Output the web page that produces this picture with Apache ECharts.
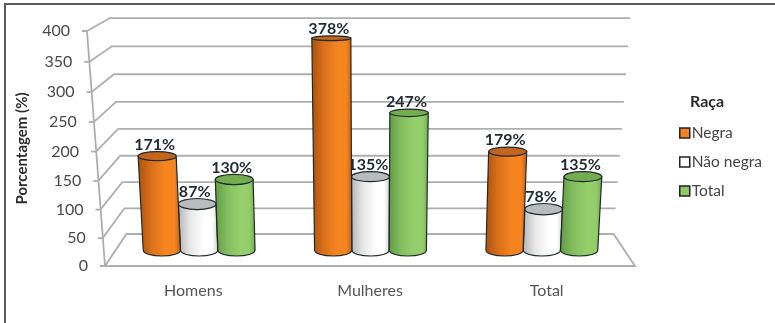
<!DOCTYPE html>
<html><head><meta charset="utf-8">
<style>html,body{margin:0;padding:0;background:#fff}#c{width:775px;height:323px}</style>
<script src="https://cdn.jsdelivr.net/npm/echarts@6/dist/echarts.min.js"></script>
</head><body><div id="c"></div>
<script>
const categories = ['Homens', 'Mulheres', 'Total'];
const negra = [171, 378, 179];
const naoNegra = [87, 135, 78];
const totalRaca = [130, 247, 135];
const yTicks = [0, 50, 100, 150, 200, 250, 300, 350, 400];

const FONT = 'Lato';
const GRID = {left: 105, top: 31, width: 530, height: 235};
const CX = GRID.left + GRID.width / 2;
const BACK = 0.919, MID = 0.97;

// simple perspective of a front-plane pixel (x, y at value v) to a depth scale s
const SPLAY = 1.7e-4, BAR_SPLAY = 1.3e-4, BOW = 8e-5;
const Y0 = GRID.top + GRID.height;
function wallY(y, v, s, y0) { return y0 + (y + BOW * v * (400 - v) - Y0) * s; }
function wallX(x, v, s) { return CX + (x - CX) * s * (1 + SPLAY * v); }

const SHADES = {
  Negra: {stops: ['#a8520f', '#d96f1a', '#f7861f', '#f6841f', '#bf5f16'], cap: '#c4641f'},
  'Não negra': {stops: ['#b4b4b4', '#e6e6e6', '#ffffff', '#ffffff', '#cfcfcf'], cap: '#b8bcbe'},
  Total: {stops: ['#5f9a45', '#84bd5f', '#95d06c', '#92cd6a', '#6fa950'], cap: '#74ad50'}
};

function cylinder(name, offset) {
  const sh = SHADES[name];
  return function (params, api) {
    const cat = api.value(0), v = api.value(1);
    const band = api.size([1, 0])[0];
    const fx = api.coord([cat, 0])[0] + offset * band;
    const hw = 0.1085 * band;
    const base = 250;
    const topY = 253.6 + (api.coord([cat, v])[1] - Y0) * MID;
    const px = (x, val) => CX + 0.5 + (x - CX) * MID * (1 + BAR_SPLAY * val);
    const lb = px(fx - hw, 0), rb = px(fx + hw, 0);
    const lt = px(fx - hw, v), rt = px(fx + hw, v);
    const ryT = 6.5 - v * 0.011, ryB = 6;
    const cx = (lt + rt) / 2, rx = (rt - lt) / 2;
    const ln = 'M' + lt + ' ' + topY + 'L' + lb + ' ' + base +
      'C' + lb + ' ' + (base + ryB * 1.33) + ' ' + rb + ' ' + (base + ryB * 1.33) + ' ' + rb + ' ' + base +
      'L' + rt + ' ' + topY + 'Z';
    const stops = sh.stops.map((c, i) => ({offset: [0, 0.3, 0.65, 0.85, 1][i], color: c}));
    return {
      type: 'group',
      children: [
        {type: 'path', shape: {pathData: ln}, style: {
          fill: new echarts.graphic.LinearGradient(0, 0, 1, 0, stops), stroke: '#1e2a2a', lineWidth: 1.2}},
        {type: 'ellipse', shape: {cx: cx, cy: topY, rx: rx, ry: ryT}, style: {fill: sh.cap, stroke: '#1e2a2a', lineWidth: 1.2}},
        {type: 'text', style: {x: cx - 2.5, y: topY - ryT - 7, text: v + '%', align: 'center', verticalAlign: 'middle',
          font: 'bold 16px ' + FONT, fill: '#1f2a33'}, z2: 10}
      ]
    };
  };
}

function wall(params, api) {
  const v = api.value(0);
  const cs = params.coordSys;
  const yF = api.coord([0, v])[1];
  const L = cs.x, R = cs.x + cs.width;
  const fx = wallX(L, v, 1), fy = wallY(yF, v, 1, Y0);
  const bx = wallX(L, v, BACK), by = wallY(yF, v, BACK, 234);
  const ex = wallX(R, v, BACK);
  const pts = [[fx - 5, fy], [fx, fy], [bx, by], [ex, by]];
  if (v === 0) pts.push([R, fy], [fx, fy]);
  const kids = [{type: 'polyline', shape: {points: pts}, style: {fill: null, stroke: '#aeaeae', lineWidth: 1.8}}];
  if (v === 400) {
    kids.push({type: 'line', shape: {x1: fx, y1: fy, x2: L, y2: Y0}, style: {stroke: '#aeaeae', lineWidth: 1.8}});
  }
  return {type: 'group', children: kids};
}

const labelPad = {};
yTicks.forEach(v => {
  const dx = GRID.left - wallX(GRID.left, v, 1);
  const dy = BOW * v * (400 - v);
  labelPad['t' + v] = {
    fontFamily: FONT, fontSize: 16, color: '#4a4a4a',
    padding: [2 * dy, dx + 17, 0, 0]
  };
});

const chart = echarts.init(document.getElementById('c'), null, {renderer: 'canvas'});
chart.setOption({
  animation: false,
  backgroundColor: '#fff',
  title: {text: 'Raça', left: 685, top: 89, textAlign: 'left',
    textStyle: {fontFamily: FONT, fontSize: 16, fontWeight: 'bold', color: '#2a2a2a'}},
  legend: {
    orient: 'vertical', left: 674, top: 120, itemWidth: 10, itemHeight: 10, itemGap: 13,
    data: ['Negra', 'Não negra', 'Total'], icon: 'rect',
    itemStyle: {borderColor: '#222', borderWidth: 1.5},
    textStyle: {fontFamily: FONT, fontSize: 15.5, color: '#444', padding: [0, 0, 0, -3]}
  },
  grid: {left: GRID.left, top: GRID.top, width: GRID.width, height: GRID.height, containLabel: false},
  xAxis: {type: 'category', data: categories, axisLine: {show: false}, axisTick: {show: false},
    axisLabel: {fontFamily: FONT, fontSize: 16, color: '#555', margin: 17}},
  yAxis: {type: 'value', min: 0, max: 400, interval: 50,
    name: 'Porcentagem (%)', nameLocation: 'middle', nameGap: 75, nameRotate: 90,
    nameTextStyle: {fontFamily: FONT, fontSize: 15, fontWeight: 'bold', color: '#2b2b2b'},
    axisLine: {show: false}, axisTick: {show: false}, splitLine: {show: false},
    axisLabel: {margin: 0, formatter: v => '{t' + v + '|' + v + '}', rich: labelPad}},
  graphic: [{type: 'rect', silent: true, shape: {x: 5, y: 4, width: 780, height: 340},
    style: {fill: 'none', stroke: '#5a5a5a', lineWidth: 2}, z: 0}],
  series: [
    {type: 'custom', name: 'wall', silent: true, z: 1, clip: false, renderItem: wall,
      encode: {y: 0}, data: yTicks.map(v => [v])},
    {type: 'custom', name: 'Não negra', z: 2, renderItem: cylinder('Não negra', 0), itemStyle: {color: '#fff'},
      encode: {x: 0, y: 1}, data: naoNegra.map((v, i) => [i, v])},
    {type: 'custom', name: 'Negra', z: 3, renderItem: cylinder('Negra', -0.2178), itemStyle: {color: '#f5821f'},
      encode: {x: 0, y: 1}, data: negra.map((v, i) => [i, v])},
    {type: 'custom', name: 'Total', z: 3, renderItem: cylinder('Total', 0.2178), itemStyle: {color: '#8ccb64'},
      encode: {x: 0, y: 1}, data: totalRaca.map((v, i) => [i, v])}
  ]
});
</script></body></html>
